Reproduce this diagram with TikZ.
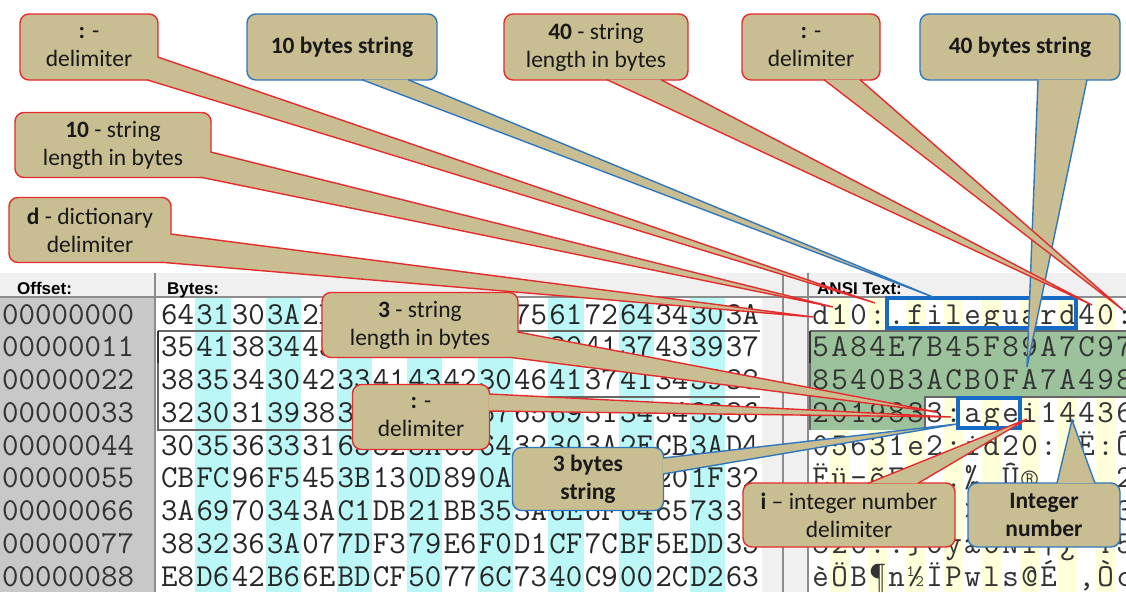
\documentclass[tikz,border=0pt]{standalone}
\usepackage{fontspec}
\setmainfont{Carlito}
\newfontfamily\uifont{Liberation Sans}
\usetikzlibrary{calc}
\definecolor{khaki}{RGB}{201,190,146}
\definecolor{calred}{RGB}{228,44,44}
\definecolor{calblue}{RGB}{48,118,188}
\definecolor{selblue}{RGB}{22,108,196}
\definecolor{hexcyan}{RGB}{188,247,247}
\definecolor{ansiyel}{RGB}{255,255,218}
\definecolor{selgreen}{RGB}{156,194,156}
\definecolor{panel}{RGB}{240,240,240}
\definecolor{offgray}{RGB}{200,200,200}
\tikzset{
  callbox/.style={rectangle,rounded corners=9pt,fill=khaki,line width=1.4pt,align=center,
    inner sep=0pt,text=black!90,font=\fontsize{23.5}{28}\selectfont},
  redbox/.style={callbox,draw=calred},
  bluebox/.style={callbox,draw=calblue,font=\fontsize{23.5}{28}\selectfont\bfseries},
  redwedge/.style={fill=khaki,draw=calred,line width=1.4pt},
  bluewedge/.style={fill=khaki,draw=calblue,line width=1.4pt},
  hexcell/.style={anchor=base,inner sep=0pt,text=black!85,font=\ttfamily\fontsize{32}{32}\selectfont},
  ansicell/.style={anchor=base,inner sep=0pt,text=black!80,font=\ttfamily\fontsize{32}{32}\selectfont},
  offcell/.style={anchor=base west,inner sep=0pt,text=black!80,font=\ttfamily\fontsize{32}{32}\selectfont},
  headlbl/.style={anchor=base west,inner sep=0pt,font=\uifont\bfseries\fontsize{17}{17}\selectfont},
  sepline/.style={draw=black!45,line width=1.5pt},
  selline/.style={draw=black!60,line width=1.5pt},
  markbox/.style={draw=selblue,line width=3.5pt},
}

\begin{document}
\begin{tikzpicture}[x=1pt,y=-1pt]
  \useasboundingbox (0,0) rectangle (1126,592);
  \clip (0,0) rectangle (1126,592);
  \fill[white] (0,0) rectangle (1126,592);

  % editor panes
  \fill[panel] (0,273) rectangle (1126,297);
  \fill[offgray] (0,297) rectangle (155,592);
  \fill[panel] (762,297) rectangle (808,592);
  \foreach \c in {1,3,...,15}
    \fill[hexcyan] ({160+35.3*\c},297) rectangle +(35.3,295);
  \foreach \c in {1,3,...,15}
    \fill[ansiyel] ({811+19*\c},297) rectangle +(19,295);
  \fill[selgreen] (810,331) rectangle (1126,397) (810,397) rectangle (925,430);
  \draw[sepline] (0,297) -- (1126,297);
  \foreach \x in {155,783,808}
    \draw[sepline] (\x,273) -- (\x,592);

  \node[headlbl] (offhd) at (17,294) {Offset:};
  \node[headlbl] (bythd) at (167,294) {Bytes:};
  \node[headlbl] (ansihd) at (817,294) {ANSI Text:};

  \foreach \off [count=\r from 0] in {00000000,00000011,00000022,00000033,00000044,00000055,00000066,00000077,00000088}
    \node[offcell] (off\r) at (2,{324+32.75*\r}) {\off};

  \foreach \hexrow [count=\r from 0] in {
      {64,31,30,3A,2E,66,69,6C,65,67,75,61,72,64,34,30,3A},
      {35,41,38,34,45,37,42,34,35,46,38,39,41,37,43,39,37},
      {38,35,34,30,42,33,41,43,42,30,46,41,37,41,34,39,38},
      {32,30,31,39,38,33,33,3A,61,67,65,69,31,34,34,33,36},
      {30,35,36,33,31,65,32,3A,69,64,32,30,3A,2E,CB,3A,D4},
      {CB,FC,96,F5,45,3B,13,0D,89,0A,DB,AE,20,02,20,1F,32},
      {3A,69,70,34,3A,C1,DB,21,BB,35,3A,6E,6F,64,65,73,33},
      {38,32,36,3A,07,7D,F3,79,E6,F0,D1,CF,7C,BF,5E,DD,35},
      {E8,D6,42,B6,6E,BD,CF,50,77,6C,73,40,C9,00,2C,D2,63}}
    \foreach \hx [count=\c from 0] in \hexrow
      \node[hexcell] (h\r-\c) at ({177.65+35.3*\c},{324+32.75*\r}) {\hx};

  \foreach \ansirow [count=\r from 0] in {
      {d,1,0,:,.,f,i,l,e,g,u,a,r,d,4,0,:},
      {5,A,8,4,E,7,B,4,5,F,8,9,A,7,C,9,7},
      {8,5,4,0,B,3,A,C,B,0,F,A,7,A,4,9,8},
      {2,0,1,9,8,3,3,:,a,g,e,i,1,4,4,3,6},
      {0,5,6,3,1,e,2,:,i,d,2,0,:,.,Ë,:,Ô},
      {Ë,ü,–,õ,E,;,.,.,‰,.,Û,®,{},.,{},.,2},
      {:,i,p,4,:,Á,Û,!,»,5,:,n,o,d,e,s,3},
      {8,2,6,:,.,\},ó,y,æ,ð,Ñ,Ï,|,¿,\textasciicircum,Ý,5},
      {è,Ö,B,¶,n,½,Ï,P,w,l,s,@,É,{},{,},Ò,c}}
    \foreach \ch [count=\c from 0] in \ansirow
      \node[ansicell] (a\r-\c) at ({820.5+19*\c},{324+32.75*\r}) {\ch};

  % selection and cursor
  \draw[selline] (158,331) -- (760,331) (158,331) -- (158,430) -- (372,430) -- (372,397) -- (760,397);
  \draw[selline] (810,331) -- (1126,331) (810,331) -- (810,430) (925,430) -- (925,397) -- (1126,397);
  \draw[line width=2.5pt,black!80] (158,331) -- (158,363) (810,331) -- (810,363);
  \draw[markbox] (887,298) rectangle (1076,328);
  \draw[markbox] (958,398) rectangle (1020,428);

  % callout targets
  \coordinate (colA) at (875,303);
  \coordinate (lenA) at (833,307);
  \coordinate (dchar) at (813,317);
  \coordinate (strA) at (933,297);
  \coordinate (lenB) at (1092,305);
  \coordinate (colB) at (1123,310);
  \coordinate (strB) at (1027,367);
  \coordinate (lenC) at (937,412);
  \coordinate (colC) at (951,417);
  \coordinate (strC) at (957,424);
  \coordinate (ichar) at (1027,419);
  \coordinate (numD) at (1072,420);

  \node[bluebox,minimum width=200pt,minimum height=66pt] (bytesB) at (1020,47) {40 bytes string};
  \filldraw[bluewedge] ($(bytesB.south)+(18,-1)$) -- (strB) -- ($(bytesB.south)+(67,-1)$);

  \node[bluebox,minimum width=190pt,minimum height=66pt] (bytesA) at (342,47) {10 bytes string};
  \filldraw[bluewedge] ($(bytesA.south)+(20,-1)$) -- (strA) -- ($(bytesA.south)+(66,-1)$);

  \node[redbox,minimum width=184pt,minimum height=66pt] (lengthB) at (596,47) {\textbf{40} - string\\length in bytes};
  \filldraw[redwedge] ($(lengthB.south)+(11,-1)$) -- (lenB) -- ($(lengthB.south)+(65,-1)$);

  \node[redbox,minimum width=138pt,minimum height=66pt] (delimB) at (811,47) {\textbf{:} -\\delimiter};
  \filldraw[redwedge] ($(delimB.south)+(13,-1)$) -- (colB) -- ($(delimB.south)+(49,-1)$);

  \node[redbox,minimum width=138pt,minimum height=66pt] (delimA) at (89,47) {\textbf{:} -\\delimiter};
  \filldraw[redwedge] ($(delimA.east)+(-1,10)$) -- (colA) -- ($(delimA.south east)+(-12,-1)$);

  \node[redbox,minimum width=196pt,minimum height=65pt] (lengthA) at (113,145) {\textbf{10} - string\\length in bytes};
  \filldraw[redwedge] ($(lengthA.east)+(-1,7)$) -- (lenA) -- ($(lengthA.south east)+(-11,-1)$);

  \node[redbox,minimum width=162pt,minimum height=65pt] (dict) at (90,230) {\textbf{d} - dictionary\\delimiter};
  \filldraw[redwedge] ($(dict.east)+(-1,4)$) -- (dchar) -- ($(dict.south east)+(-11,-1)$);

  \node[redbox,minimum width=196pt,minimum height=65pt] (lengthC) at (420,325) {\textbf{3} - string\\length in bytes};
  \filldraw[redwedge] ($(lengthC.east)+(-1,7)$) -- (lenC) -- ($(lengthC.south east)+(-10,-1)$);

  \node[redbox,minimum width=137pt,minimum height=65pt] (delimC) at (421,417) {\textbf{:} -\\delimiter};
  \filldraw[redwedge] ($(delimC.east)+(-1,-23)$) -- (colC) -- ($(delimC.east)+(-1,-6)$);

  \node[bluebox,minimum width=151pt,minimum height=63pt] (bytesC) at (588,479) {3 bytes\\string};
  \filldraw[bluewedge] ($(bytesC.east)+(-1,-21)$) -- (strC) -- ($(bytesC.east)+(-1,-5)$);

  \node[redbox,minimum width=212pt,minimum height=64pt] (intdelim) at (849,515) {\textbf{i} – integer number\\delimiter};
  \filldraw[redwedge] ($(intdelim.north)+(19,1)$) -- (ichar) -- ($(intdelim.north)+(69,1)$);

  \node[bluebox,minimum width=152pt,minimum height=64pt] (intnum) at (1044,515) {Integer\\number};
  \filldraw[bluewedge] ($(intnum.north)+(13,1)$) -- (numD) -- ($(intnum.north)+(51,1)$);
\end{tikzpicture}
\end{document}
